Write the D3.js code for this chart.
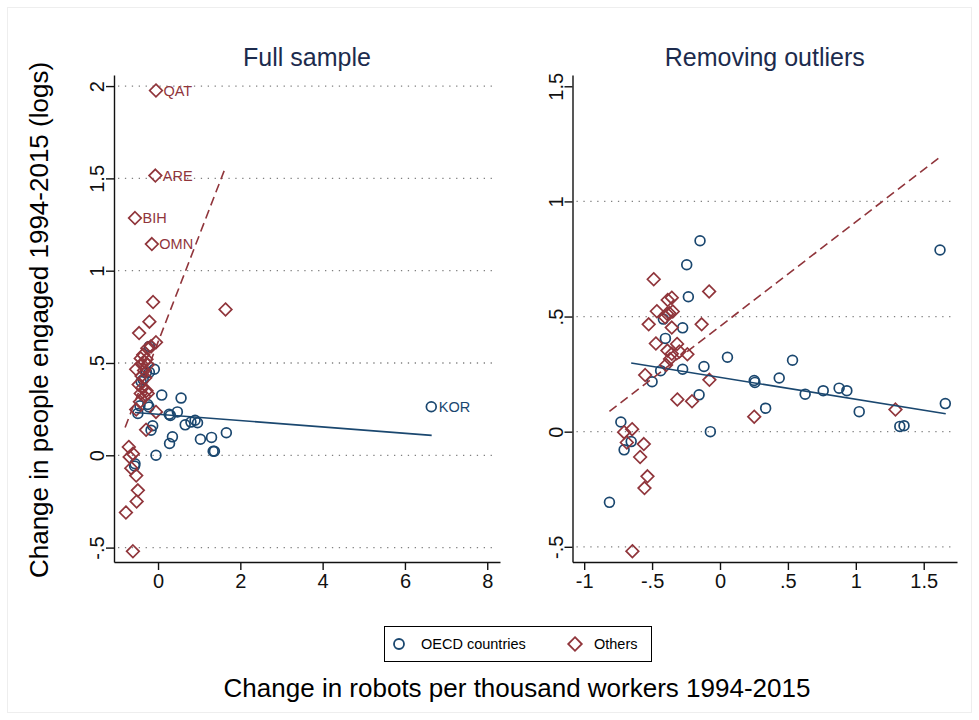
<!DOCTYPE html>
<html>
<head>
<meta charset="utf-8">
<script src="https://cdn.jsdelivr.net/npm/d3@7"></script>
<style>
  body { margin: 0; background: #fff; }
  svg { display: block; font-family: "Liberation Sans", Arial, Helvetica, sans-serif; }
</style>
</head>
<body>
<svg id="chart" width="979" height="720"></svg>
<script>
// ---- data ----
// [x, y, label]  x = change in robots per thousand workers, y = change in people engaged (logs)
const leftOecd = [
  [6.64, 0.263, "KOR"],
  [-0.21, 0.59], [-0.09, 0.466], [-0.21, 0.45], [-0.41, 0.40], [0.09, 0.326],
  [0.56, 0.31], [-0.25, 0.275], [-0.22, 0.262], [-0.49, 0.227], [-0.44, 0.268],
  [0.27, 0.222], [0.30, 0.216], [0.47, 0.235], [0.66, 0.165], [0.80, 0.18],
  [0.90, 0.19], [0.96, 0.176], [1.03, 0.087], [1.30, 0.097], [1.34, 0.022],
  [1.37, 0.022], [1.66, 0.122], [0.35, 0.10], [0.28, 0.064], [-0.13, 0.16],
  [-0.17, 0.136], [-0.05, 0.0], [-0.57, -0.058], [-0.56, -0.046], [-0.36, 0.41],
  [-0.28, 0.45]
];
const leftOthers = [
  [-0.05, 1.976, "QAT"], [-0.065, 1.515, "ARE"], [-0.56, 1.285, "BIH"], [-0.15, 1.144, "OMN"],
  [-0.12, 0.830], [1.64, 0.790], [-0.21, 0.724], [-0.46, 0.662], [-0.05, 0.612],
  [-0.17, 0.590], [-0.26, 0.580], [-0.36, 0.545], [-0.42, 0.525], [-0.28, 0.520],
  [-0.32, 0.505], [-0.40, 0.495], [-0.25, 0.490], [-0.53, 0.466], [-0.34, 0.460],
  [-0.40, 0.430], [-0.31, 0.420], [-0.47, 0.383], [-0.38, 0.365], [-0.28, 0.350],
  [-0.42, 0.335], [-0.25, 0.335], [-0.33, 0.320], [-0.44, 0.290], [-0.05, 0.235],
  [-0.53, 0.248], [-0.29, 0.138], [-0.71, 0.045], [-0.61, 0.009], [-0.69, -0.009],
  [-0.65, -0.07], [-0.53, -0.11], [-0.49, -0.19], [-0.52, -0.25], [-0.78, -0.31],
  [-0.61, -0.52]
];
const rightOecd = [
  [-0.147, 0.829], [-0.245, 0.725], [-0.233, 0.586], [-0.275, 0.451], [-0.417, 0.489],
  [-0.402, 0.405], [-0.437, 0.265], [-0.275, 0.271], [-0.500, 0.217], [-0.118, 0.283],
  [0.055, 0.323], [0.534, 0.310], [0.252, 0.222], [0.257, 0.214], [0.436, 0.233],
  [0.627, 0.163], [0.760, 0.178], [0.877, 0.189], [0.934, 0.178], [1.025, 0.087],
  [1.324, 0.023], [1.355, 0.026], [1.659, 0.122], [1.620, 0.789], [0.336, 0.102],
  [-0.154, 0.160], [-0.071, 0.000], [-0.730, 0.042], [-0.706, -0.079], [-0.654, -0.043],
  [-0.814, -0.307]
];
const rightOthers = [
  [-0.488, 0.662], [-0.080, 0.609], [-0.355, 0.582], [-0.385, 0.572], [-0.465, 0.523],
  [-0.390, 0.512], [-0.372, 0.514], [-0.348, 0.522], [-0.404, 0.497], [-0.525, 0.466],
  [-0.135, 0.466], [-0.355, 0.452], [-0.472, 0.383], [-0.316, 0.381], [-0.387, 0.352],
  [-0.355, 0.338], [-0.299, 0.348], [-0.240, 0.336], [-0.368, 0.316], [-0.397, 0.290],
  [-0.551, 0.246], [-0.078, 0.225], [-0.314, 0.140], [-0.206, 0.132], [0.252, 0.065],
  [1.292, 0.096], [-0.706, -0.002], [-0.647, 0.011], [-0.686, -0.047], [-0.561, -0.054],
  [-0.588, -0.110], [-0.534, -0.194], [-0.556, -0.245], [-0.645, -0.519]
];
// fitted values at the ends of each linear fit
const leftFitOecd = [[-0.56, 0.232], [6.65, 0.108]];
const leftFitOthers = [[-0.80, 0.151], [1.645, 1.563]];
const rightFitOecd = [[-0.654, 0.298], [1.662, 0.078]];
const rightFitOthers = [[-0.814, 0.088], [1.625, 1.195]];

const leftXTicks = [0, 2, 4, 6, 8];
const leftYTicks = [-0.5, 0, 0.5, 1, 1.5, 2];
const rightXTicks = [-1, -0.5, 0, 0.5, 1, 1.5];
const rightYTicks = [-0.5, 0, 0.5, 1, 1.5];

const panelTitles = ["Full sample", "Removing outliers"];
const seriesNames = ["OECD countries", "Others"];
const yTitle = "Change in people engaged 1994-2015 (logs)";
const xTitle = "Change in robots per thousand workers 1994-2015";

// ---- drawing ----
const navy = "#1a476f", maroon = "#90353b", titleColor = "#1c2b4d";
const plotTop = 75, plotBottom = 562;
const svg = d3.select("#chart");

// stata style labels: .5, -.5, 1.5
const fmt = v => v === 0 ? "0" : String(v).replace(/^(-?)0\./, "$1.");
const diamond = s => `M0,${-s}L${s},0L0,${s}L${-s},0Z`;

// faint outer frame
svg.append("rect").attr("x", 7.5).attr("y", 7.5).attr("width", 964).attr("height", 705)
  .attr("fill", "none").attr("stroke", "#eeeeee");

function drawPanel(p) {
  const x = d3.scaleLinear().domain(p.xDomain).range([p.x0, p.x1]);
  const y = d3.scaleLinear().domain(p.yDomain).range([plotBottom, plotTop]);
  const g = svg.append("g");

  g.append("text")
    .attr("x", (p.x0 + p.x1) / 2).attr("y", 66)
    .attr("text-anchor", "middle").attr("font-size", 25).attr("fill", titleColor)
    .text(p.title);

  g.append("g").selectAll("line").data(p.grid).join("line")
    .attr("x1", p.x0 + 4).attr("x2", p.x1 - 3)
    .attr("y1", d => y(d)).attr("y2", d => y(d))
    .attr("stroke", "#808080").attr("stroke-width", 1.3)
    .attr("stroke-dasharray", "1.3 5.6");

  const ya = g.append("g").attr("transform", `translate(${p.x0},0)`)
    .call(d3.axisLeft(y).tickValues(p.yTicks).tickFormat(fmt).tickSize(8).tickSizeOuter(0));
  ya.attr("color", "#111");
  ya.selectAll(".tick text")
    .style("font-size", "20px").style("font-family", "'Liberation Sans', Arial, sans-serif")
    .attr("transform", "rotate(-90)").attr("x", 0).attr("y", -10).attr("dy", 0)
    .attr("text-anchor", "middle");
  ya.selectAll("path, line").attr("stroke-width", 1.4);

  const xa = g.append("g").attr("transform", `translate(0,${plotBottom})`)
    .call(d3.axisBottom(x).tickValues(p.xTicks).tickFormat(fmt).tickSize(8).tickSizeOuter(0).tickPadding(4));
  xa.attr("color", "#111");
  xa.selectAll(".tick text")
    .style("font-size", "20px").style("font-family", "'Liberation Sans', Arial, sans-serif");
  xa.selectAll("path, line").attr("stroke-width", 1.4);

  g.append("g").selectAll("circle").data(p.oecd).join("circle")
    .attr("cx", d => x(d[0])).attr("cy", d => y(d[1])).attr("r", 4.9)
    .attr("fill", "none").attr("stroke", navy).attr("stroke-width", 1.7);

  g.append("g").selectAll("path").data(p.others).join("path")
    .attr("transform", d => `translate(${x(d[0])},${y(d[1])})`)
    .attr("d", diamond(6.3))
    .attr("fill", "none").attr("stroke", maroon).attr("stroke-width", 1.7);

  const line = d3.line().x(d => x(d[0])).y(d => y(d[1]));
  g.append("path").attr("d", line(p.fitOecd))
    .attr("fill", "none").attr("stroke", navy).attr("stroke-width", 1.6);
  g.append("path").attr("d", line(p.fitOthers))
    .attr("fill", "none").attr("stroke", maroon).attr("stroke-width", 1.6)
    .attr("stroke-dasharray", "9 5");

  const labelled = p.oecd.filter(d => d[2]).map(d => [d, navy])
    .concat(p.others.filter(d => d[2]).map(d => [d, maroon]));
  g.append("g").selectAll("text").data(labelled).join("text")
    .attr("x", d => x(d[0][0]) + 7.5).attr("y", d => y(d[0][1]) + 5)
    .attr("font-size", 14.5).attr("fill", d => d[1])
    .text(d => d[0][2]);
}

drawPanel({
  title: panelTitles[0], x0: 114, x1: 500,
  xDomain: [-1.07, 8.31], yDomain: [-0.578, 2.06],
  xTicks: leftXTicks, yTicks: leftYTicks, grid: leftYTicks,
  oecd: leftOecd, others: leftOthers, fitOecd: leftFitOecd, fitOthers: leftFitOthers
});
drawPanel({
  title: panelTitles[1], x0: 572.5, x1: 957,
  xDomain: [-1.086, 1.745], yDomain: [-0.566, 1.549],
  xTicks: rightXTicks, yTicks: rightYTicks, grid: rightYTicks.filter(v => v < 1.5),
  oecd: rightOecd, others: rightOthers, fitOecd: rightFitOecd, fitOthers: rightFitOthers
});

// axis titles
svg.append("text")
  .attr("transform", "translate(48,320) rotate(-90)")
  .attr("text-anchor", "middle").attr("font-size", 26).attr("fill", "#000")
  .text(yTitle);
svg.append("text")
  .attr("x", 517).attr("y", 697)
  .attr("text-anchor", "middle").attr("font-size", 26).attr("fill", "#000")
  .text(xTitle);

// legend
const legend = svg.append("g");
legend.append("rect").attr("x", 384.5).attr("y", 626.5).attr("width", 267).attr("height", 35)
  .attr("fill", "none").attr("stroke", "#000").attr("stroke-width", 1);
legend.append("circle").attr("cx", 399).attr("cy", 644).attr("r", 5)
  .attr("fill", "none").attr("stroke", navy).attr("stroke-width", 1.8);
legend.append("text").attr("x", 421).attr("y", 649).attr("font-size", 14.5).text(seriesNames[0]);
legend.append("path").attr("transform", "translate(575,644)").attr("d", diamond(6.8))
  .attr("fill", "none").attr("stroke", maroon).attr("stroke-width", 1.8);
legend.append("text").attr("x", 594).attr("y", 649).attr("font-size", 14.5).text(seriesNames[1]);
</script>
</body>
</html>
